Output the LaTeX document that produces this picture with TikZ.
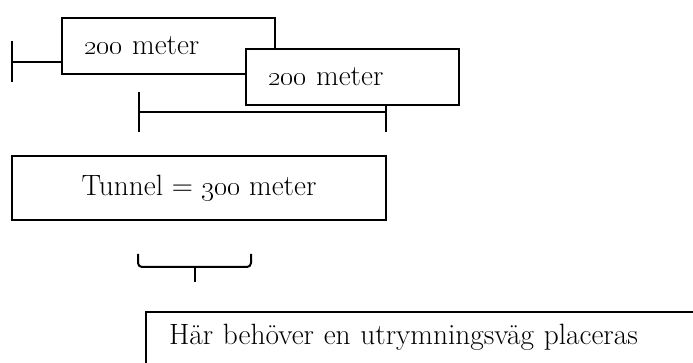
\documentclass[tikz,border=0pt]{standalone}
\usepackage{tikz}
\usetikzlibrary{positioning}
\tikzstyle{Box}=[draw=black,fill=white,line width=1.5pt,rectangle,
font=\fontsize{22}{26}\selectfont]
\tikzstyle{BoxL}=[Box,align=left,inner xsep=16.5pt,text width=126.75pt,
minimum height=42pt]
\tikzstyle{Edge}=[draw=black,line width=1.5pt]

\begin{document}
\begin{tikzpicture}[x=0.75pt,y=-0.75pt]
        \useasboundingbox(0,0)rectangle(693,363);
        \clip(0,0)rectangle(693,363);
        % measuring bars
        \coordinate(l0)at(12,62);
        \coordinate(m0)at(139,112);
        \coordinate(m1)at(386,112);
        \draw[Edge]([yshift=16]l0)--([yshift=-15]l0);
        \draw[Edge]([yshift=15]m0)--([yshift=-15]m0);
        \draw[Edge]([yshift=16]m1)--([yshift=-15]m1);
        \draw[Edge](m0)--(m1);
        % boxes
        \node[BoxL,anchor=north west](b1)at(61,17){\oldstylenums{200} meter};
        \node[BoxL,anchor=north west](b2)at(245,48){\oldstylenums{200} meter};
        \draw[Edge](l0)--(l0-|b1.west);
        \node[Box,anchor=north west,minimum width=280.5pt,minimum height=48pt]
            (t)at(11,155){Tunnel = \oldstylenums{300} meter};
        % brace
        \coordinate(c0)at(138,254);
        \coordinate(c1)at(251,254);
        \coordinate(c2)at(195,267);
        \draw[Edge,rounded corners=3pt](c0)|-(c2)-|(c1);
        \draw[Edge](c2)--++(0,15);
        \node[Box,anchor=north west,inner sep=0pt,inner xsep=17.25pt,
            text width=450pt,align=left,text height=24.75pt,text depth=45pt]
            (h)at(145,311){H\"ar beh\"over en utrymningsv\"ag placeras};
    \end{tikzpicture}
\end{document}
